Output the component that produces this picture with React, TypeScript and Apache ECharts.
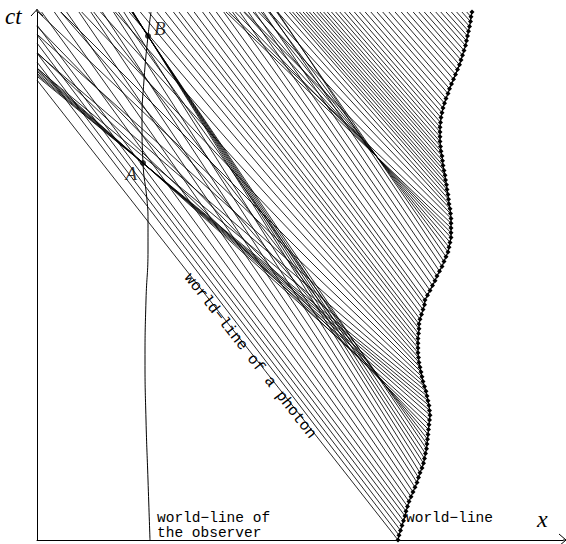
import React, { useEffect, useRef } from "react";
import * as echarts from "echarts";

// emission events along the source world-line (ct, x)
const sourceCt = [
  0, 4.8, 9.6, 14.4, 19.2, 24, 28.8, 33.6, 38.4, 43.2, 48, 52.8, 57.6, 62.4, 67.2, 72, 76.8, 81.6, 86.4, 91.2,
  96, 100.8, 105.6, 110.4, 115.2, 120, 124.8, 129.6, 134.4, 139.2, 144, 148.8, 153.6, 158.4, 163.2, 168, 172.8,
  177.6, 182.4, 187.2, 192, 196.8, 201.6, 206.4, 211.2, 216, 220.8, 225.6, 230.4, 235.2, 240, 244.8, 249.6, 254.4,
  259.2, 264, 268.8, 273.6, 278.4, 283.2, 288, 292.8, 297.6, 302.4, 307.2, 312, 316.8, 321.6, 326.4, 331.2, 336,
  340.8, 345.6, 350.4, 355.2, 360, 364.8, 369.6, 374.4, 379.2, 384, 388.8, 393.6, 398.4, 403.2, 408, 412.8, 417.6,
  422.4, 427.2, 432, 436.8, 441.6, 446.4, 451.2, 456, 460.8, 465.6, 470.4, 475.2, 480, 484.8, 489.6, 494.4, 499.2,
  504, 508.8, 513.6, 518.4, 523.2, 528,
];
const sourceX = [
  361, 362, 363.5, 365, 366.5, 368, 369, 370.5, 372, 374, 376, 378, 380, 381.5, 383, 385, 386.5, 387.5, 388.5, 389.5,
  390, 390.5, 391, 391.5, 392, 392.5, 393, 392.5, 392, 391, 390, 389, 387.5, 386, 385, 384, 383, 382, 381.5, 381,
  381, 381, 381, 381.5, 382, 382, 383, 384.5, 386, 387.5, 388, 390.5, 393, 395.5, 398, 400, 402.5, 405, 407, 409,
  411, 412, 413, 414, 414, 414, 414, 414, 413.5, 413, 412, 411.5, 411, 410, 409.5, 408.5, 408, 407, 406, 405.5, 405,
  404, 403.5, 403, 403, 403, 403, 403.5, 404, 405, 406, 407.5, 409, 411, 412.5, 414.5, 416.5, 418.5, 420.5, 422.5,
  424, 425.5, 427, 428.5, 429.5, 430.5, 431.5, 432.5, 433.5, 434, 435,
];
// slope (d ct / d(-x)) of the photon line leaving each event
const raySlope = [
  1.274, 1.307, 1.313, 1.322, 1.326, 1.334, 1.37, 1.4, 1.43, 1.46, 1.49, 1.52, 1.55, 1.58, 1.606, 1.577, 1.551,
  1.528, 1.505, 1.482, 1.4, 1.28, 1.15, 1.03, 0.95, 0.897, 0.879, 0.864, 0.848, 0.834, 0.82, 0.83, 0.86, 0.9, 0.95,
  1.0, 1.05, 1.1, 1.14, 1.18, 1.21, 1.23, 1.25, 1.27, 1.29, 1.3, 1.32, 1.33, 1.35, 1.36, 1.38, 1.39, 1.41, 1.42,
  1.44, 1.45, 1.47, 1.48, 1.5, 1.446, 1.338, 1.253, 1.17, 1.089, 1.024, 0.96, 0.95, 1.0, 1.05, 1.09, 1.12, 1.14,
  1.15, 1.15, 1.15, 1.15, 1.15, 1.15, 1.15, 1.15, 1.15, 1.15, 1.15, 1.15, 1.15, 1.15, 1.15, 1.15, 1.15, 1.15, 1.15,
  1.15, 1.15, 1.15, 1.15, 1.15, 1.15, 1.15, 1.14, 1.14, 1.14, 1.13, 1.13, 1.13, 1.12, 1.12, 1.12, 1.12, 1.12, 1.12,
  1.12, 1.12,
];
// observer world-line (ct, x)
const observerCt = [0, 60, 120, 180, 240, 290, 320, 340, 377, 420, 460, 504, 528];
const observerX = [113, 111, 109, 108, 109, 111, 111, 110, 106, 105, 107, 111, 114];
// marked events on the observer world-line
const eventNames = ["A", "B"];
const eventCt = [377, 504];
const eventX = [106, 111];

const X_MAX = 526;
const CT_MAX = 528;

const MONO = "'Liberation Mono', 'DejaVu Sans Mono', monospace";
const SERIF = "'Liberation Serif', 'DejaVu Serif', serif";

export default function App() {
  const ref = useRef<HTMLDivElement>(null);
  useEffect(() => {
    if (!ref.current) return;
    const chart = echarts.init(ref.current, null, { renderer: "svg" });

    const rays = sourceCt.map((ct, i) => {
      const x0 = sourceX[i];
      const s = raySlope[i];
      const ctAtZero = ct + s * x0;
      let end: number[];
      if (ctAtZero <= CT_MAX) end = [0, ctAtZero];
      else end = [x0 - (CT_MAX - ct) / s, CT_MAX];
      return { coords: [[x0, ct], end] };
    });

    chart.setOption({
      animation: false,
      backgroundColor: "#fff",
      grid: { left: 37, top: 12, right: 3, bottom: 4 },
      xAxis: {
        type: "value",
        min: 0,
        max: X_MAX,
        axisLine: { show: true, lineStyle: { color: "#000", width: 1 } },
        axisTick: { show: false },
        axisLabel: { show: false },
        splitLine: { show: false },
      },
      yAxis: {
        type: "value",
        min: 0,
        max: CT_MAX,
        axisLine: { show: true, lineStyle: { color: "#000", width: 1 } },
        axisTick: { show: false },
        axisLabel: { show: false },
        splitLine: { show: false },
      },
      series: [
        {
          type: "lines",
          coordinateSystem: "cartesian2d",
          silent: true,
          z: 1,
          lineStyle: { color: "#000", width: 0.85, opacity: 1 },
          data: rays,
        },
        {
          type: "line",
          z: 3,
          data: sourceCt.map((ct, i) => [sourceX[i], ct]),
          symbol: "diamond",
          symbolSize: 5,
          itemStyle: { color: "#000" },
          lineStyle: { color: "#000", width: 1.2 },
          clip: false,
        },
        {
          type: "line",
          z: 2,
          smooth: true,
          data: observerCt.map((ct, i) => [observerX[i], ct]),
          symbol: "none",
          lineStyle: { color: "#000", width: 1 },
        },
        {
          type: "scatter",
          z: 4,
          symbolSize: 6,
          itemStyle: { color: "#000" },
          data: eventNames.map((n, i) => ({
            name: n,
            value: [eventX[i], eventCt[i]],
            label: {
              show: true,
              formatter: n,
              position: i === 0 ? "left" : "right",
              offset: i === 0 ? [2, 10] : [-2, -8],
              fontFamily: SERIF,
              fontStyle: "italic",
              fontSize: 19,
              color: "#000",
            },
          })),
        },
      ],
      graphic: [
        { type: "line", shape: { x1: 37, y1: 12, x2: 37, y2: 9 }, style: { stroke: "#000", lineWidth: 1 } },
        {
          type: "polyline",
          shape: { points: [[31, 16], [37, 9.5], [43, 16]] },
          style: { stroke: "#000", lineWidth: 1, fill: "none" },
        },
        {
          type: "polyline",
          shape: { points: [[559, 534], [566, 540], [559, 546]] },
          style: { stroke: "#000", lineWidth: 1, fill: "none" },
        },
        { type: "line", shape: { x1: 563, y1: 540, x2: 566, y2: 540 }, style: { stroke: "#000", lineWidth: 1 } },
        {
          type: "text",
          x: 5,
          y: 28,
          style: { text: "ct", font: `italic 23px ${SERIF}`, fill: "#000", verticalAlign: "bottom" },
        },
        {
          type: "text",
          x: 537,
          y: 531,
          style: { text: "x", font: `italic 24px ${SERIF}`, fill: "#000", verticalAlign: "bottom" },
        },
        {
          type: "text",
          x: 157,
          y: 525.5,
          style: { text: "world\u2212line of", font: `14.5px ${MONO}`, fill: "#000", verticalAlign: "bottom" },
        },
        {
          type: "text",
          x: 157,
          y: 540,
          style: { text: "the observer", font: `14.5px ${MONO}`, fill: "#000", verticalAlign: "bottom" },
        },
        {
          type: "text",
          x: 406,
          y: 525.5,
          style: { text: "world\u2212line", font: `14.5px ${MONO}`, fill: "#000", verticalAlign: "bottom" },
        },
        {
          type: "text",
          x: 250,
          y: 356,
          rotation: -0.91,
          style: {
            text: "world\u2212line of a photon",
            font: `15.5px ${MONO}`,
            fill: "#000",
            align: "center",
            verticalAlign: "middle",
          },
        },
      ],
    });
    return () => chart.dispose();
  }, []);
  return (
    <div
      ref={ref}
      style={{ position: "absolute", left: 0, top: 0, width: 566, height: 544, background: "#fff" }}
    />
  );
}
